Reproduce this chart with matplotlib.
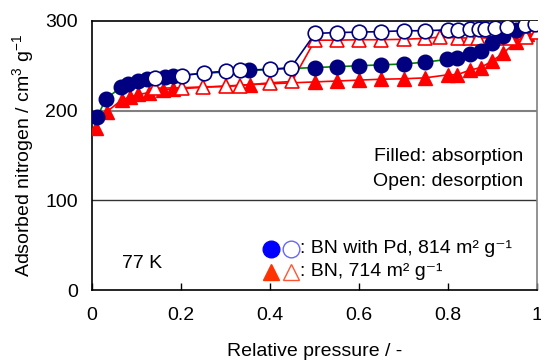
import matplotlib
matplotlib.use("Agg")
import matplotlib.pyplot as plt

plt.rcParams['font.family'] = ['Liberation Sans', 'DejaVu Sans']
plt.rcParams['mathtext.fontset'] = 'custom'
plt.rcParams['mathtext.rm'] = 'Liberation Sans'
plt.rcParams['mathtext.it'] = 'Liberation Sans'
plt.rcParams['font.size'] = 14

# BN with Pd, adsorption (filled circles)
pd_ads_x = [0.012, 0.031, 0.065, 0.082, 0.103, 0.123, 0.164, 0.183, 0.353, 0.50, 0.55,
            0.60, 0.649, 0.70, 0.748, 0.797, 0.82, 0.848, 0.873, 0.898, 0.924, 0.953, 0.975]
pd_ads_y = [193, 213, 226, 230, 233, 235, 238, 239, 245, 248, 249,
            250, 251, 252, 254, 257, 259, 263, 267, 275, 283, 290, 295]
# BN with Pd, desorption (open circles)
pd_des_x = [0.142, 0.202, 0.252, 0.301, 0.333, 0.40, 0.447, 0.501, 0.55, 0.60, 0.649,
            0.70, 0.748, 0.80, 0.823, 0.849, 0.87, 0.883, 0.906, 0.933, 0.973, 0.994]
pd_des_y = [236, 239, 242, 244, 245, 246, 248, 286, 287, 287.5, 288,
            289, 289, 290, 290, 290.5, 291, 291, 292, 293, 295, 297]
# BN, adsorption (filled triangles)
bn_ads_x = [0.01, 0.034, 0.067, 0.085, 0.104, 0.127, 0.16, 0.183, 0.355, 0.50, 0.55,
            0.60, 0.649, 0.70, 0.748, 0.80, 0.82, 0.848, 0.873, 0.898, 0.924, 0.953, 0.977]
bn_ads_y = [181, 199, 212, 215, 218, 220, 223, 224, 229, 232, 233,
            234, 235, 235.5, 236.5, 240, 240, 245, 248, 255, 264, 277, 285]
# BN, desorption (open triangles)
bn_des_x = [0.142, 0.202, 0.25, 0.301, 0.333, 0.40, 0.449, 0.501, 0.55, 0.60, 0.649,
            0.70, 0.748, 0.782, 0.823, 0.849, 0.868, 0.91, 0.938, 0.975, 0.999]
bn_des_y = [225, 225.5, 226.5, 227, 228, 231, 232.5, 278.5, 278.5, 279, 279,
            279.5, 280.5, 282, 281, 281, 281, 281, 281, 282, 288]

x_ticks = [0, 0.2, 0.4, 0.6, 0.8, 1]
x_labels = ['0', '0.2', '0.4', '0.6', '0.8', '1']
y_ticks = [0, 100, 200, 300]

navy = '#000080'
red = '#FF0000'

fig = plt.figure(figsize=(5.41, 3.6), dpi=100)
ax = fig.add_axes([0.170, 0.194, 0.823, 0.748])

# horizontal gridlines
ax.axhline(100, color='#333333', lw=1.0, zorder=1)
ax.axhline(200, color='#808080', lw=1.5, zorder=1)

ax.plot(bn_ads_x, bn_ads_y, '-^', color=red, mfc=red, mec=red, ms=10, lw=1.2, zorder=3)
ax.plot(bn_des_x, bn_des_y, '-^', color=red, mfc='white', mec=red, ms=10, mew=1.2, lw=1.2, zorder=3)
ax.plot(pd_ads_x, pd_ads_y, '-', color='#008000', lw=1.2, zorder=4)
ax.plot(pd_ads_x, pd_ads_y, 'o', mfc=navy, mec=navy, ms=10.5, zorder=4)
ax.plot(pd_des_x, pd_des_y, '-o', color=navy, mfc='white', mec=navy, ms=10.5, mew=1.2, lw=1.2, zorder=5)

ax.set_xlim(0, 1)
ax.set_ylim(0, 300)
ax.set_xticks(x_ticks)
ax.set_xticklabels(x_labels)
ax.set_yticks(y_ticks)
ax.tick_params(axis='x', direction='in', length=5, width=1, pad=12)
ax.tick_params(axis='y', length=0, pad=10)
for side in ['left', 'bottom', 'top']:
    ax.spines[side].set_color('black')
    ax.spines[side].set_linewidth(1.2)
ax.spines['right'].set_color('#808080')
ax.spines['right'].set_linewidth(1.2)

ax.set_xlabel('Relative pressure / -', labelpad=14)
ax.set_ylabel('Adsorbed nitrogen / cm$^3$ g$^{-1}$', labelpad=7)

ax.text(0.968, 0.495, 'Filled: absorption', transform=ax.transAxes, ha='right', va='center')
ax.text(0.968, 0.402, 'Open: desorption', transform=ax.transAxes, ha='right', va='center')
ax.text(0.068, 0.098, '77 K', transform=ax.transAxes, ha='left', va='center')

# custom legend
ax.plot([0.402], [0.153], 'o', color='#0000FF', ms=12, transform=ax.transAxes, clip_on=False)
ax.plot([0.447], [0.153], 'o', mfc='white', mec='#6666FF', ms=12, mew=1.0, transform=ax.transAxes, clip_on=False)
ax.plot([0.402], [0.068], '^', color='#FF3300', ms=12, transform=ax.transAxes, clip_on=False)
ax.plot([0.447], [0.068], '^', mfc='white', mec='#FF5533', ms=12, mew=1.0, transform=ax.transAxes, clip_on=False)
ax.text(0.468, 0.153, ': BN with Pd, 814 m² g⁻¹', transform=ax.transAxes, ha='left', va='center')
ax.text(0.468, 0.068, ': BN, 714 m² g⁻¹', transform=ax.transAxes, ha='left', va='center')

fig.savefig('out.png', dpi=100)
